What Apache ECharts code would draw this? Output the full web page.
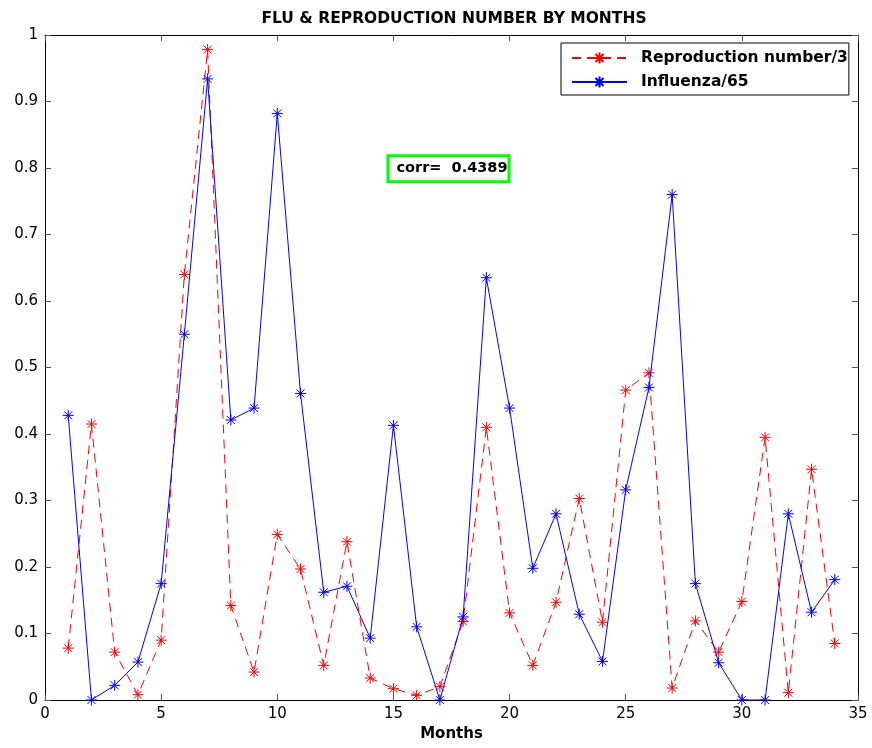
<!DOCTYPE html>
<html>
<head>
<meta charset="utf-8">
<script src="https://cdn.jsdelivr.net/npm/echarts@6/dist/echarts.min.js"></script>
<style>
html,body{margin:0;padding:0;background:#fff;}
#main{width:872px;height:748px;}
</style>
</head>
<body>
<div id="main"></div>
<script>
const months = [1,2,3,4,5,6,7,8,9,10,11,12,13,14,15,16,17,18,19,20,21,22,23,24,25,26,27,28,29,30,31,32,33,34];
const reproduction = [0.078,0.415,0.072,0.008,0.090,0.640,0.978,0.142,0.042,0.249,0.197,0.052,0.238,0.033,0.017,0.007,0.020,0.118,0.410,0.131,0.052,0.147,0.303,0.117,0.466,0.492,0.018,0.119,0.072,0.148,0.395,0.011,0.347,0.085];
const influenza = [0.428,0.000,0.022,0.057,0.175,0.550,0.934,0.421,0.439,0.882,0.461,0.162,0.171,0.093,0.413,0.110,0.000,0.125,0.635,0.439,0.198,0.280,0.129,0.058,0.316,0.470,0.760,0.175,0.056,0.000,0.000,0.280,0.132,0.181];
const seriesNames = ['Reproduction number/3','Influenza/65'];
const corrText = 'corr=  0.4389';
const corrPos = [17.37, 0.799];

const star = 'path://M0,-5L0,5M-5,0L5,0M-3.6,-3.6L3.6,3.6M-3.6,3.6L3.6,-3.6';
const font = '"DejaVu Sans", Verdana, sans-serif';

const chart = echarts.init(document.getElementById('main'), null, {renderer:'canvas'});
function ax(extra){
  return Object.assign({
    type:'value',
    axisLine:{show:true, onZero:false, lineStyle:{color:'#000', width:1}},
    axisTick:{show:true, inside:true, length:6, lineStyle:{color:'#555', width:1}},
    splitLine:{show:false}
  }, extra);
}
chart.setOption({
  animation:false,
  backgroundColor:'#fff',
  title:{
    text:'FLU & REPRODUCTION NUMBER BY MONTHS',
    left:449, top:6, textAlign:'center',
    textStyle:{fontFamily:font, fontSize:15.5, fontWeight:'bold', color:'#000'}
  },
  grid:{left:45, right:14, top:35, bottom:48},
  legend:{
    left:561, top:43,
    orient:'vertical',
    backgroundColor:'#fff',
    borderColor:'#000', borderWidth:1, borderRadius:0,
    padding:[7,1,5,10],
    itemGap:8,
    itemWidth:55, itemHeight:14,
    textStyle:{fontFamily:font, fontSize:15.5, fontWeight:'bold', color:'#000', padding:[0,0,0,9]},
    data:seriesNames
  },
  xAxis:[
    ax({min:0, max:35, interval:5, position:'bottom',
      name:'Months', nameLocation:'middle', nameGap:27,
      nameTextStyle:{fontFamily:font, fontSize:15, fontWeight:'bold', color:'#000'},
      axisLabel:{fontFamily:font, fontSize:15, color:'#000', margin:7}}),
    ax({min:0, max:35, interval:5, position:'top', axisLabel:{show:false}})
  ],
  yAxis:[
    ax({min:0, max:1, interval:0.1, position:'left',
      axisLabel:{fontFamily:font, fontSize:15, color:'#000', margin:7}}),
    ax({min:0, max:1, interval:0.1, position:'right', axisLabel:{show:false}})
  ],
  series:[
    {
      name:seriesNames[0], type:'line',
      data:months.map((m,i)=>[m, reproduction[i]]),
      symbol:star, symbolSize:11,
      itemStyle:{color:'#ff0000', borderColor:'#ff0000', borderWidth:1},
      lineStyle:{color:'#ff0000', width:1, type:[9,6]},
      z:2,
      markPoint:{
        symbol:'rect', symbolSize:0,
        data:[{coord:corrPos}],
        label:{
          show:true, position:'inside', formatter:corrText,
          fontFamily:font, fontSize:14.5, fontWeight:'bold', color:'#000',
          backgroundColor:'#fff', borderColor:'#00ff00', borderWidth:3,
          padding:[4,0,4,7]
        }
      }
    },
    {
      name:seriesNames[1], type:'line',
      data:months.map((m,i)=>[m, influenza[i]]),
      symbol:star, symbolSize:11,
      itemStyle:{color:'#0000ff', borderColor:'#0000ff', borderWidth:1},
      lineStyle:{color:'#0000ff', width:1},
      z:3
    }
  ]
});
</script>
</body>
</html>
